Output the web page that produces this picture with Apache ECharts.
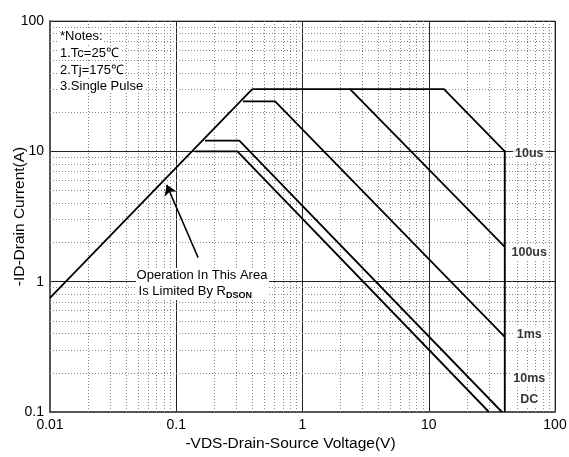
<!DOCTYPE html>
<html><head><meta charset="utf-8">
<script src="https://cdn.jsdelivr.net/npm/echarts@6/dist/echarts.min.js"></script>
<style>html,body{margin:0;padding:0;background:#fff}#c{width:569px;height:457px}</style>
</head><body><div id="c"></div>
<script>
// ---- data ----
const xDecades = [0.01, 0.1, 1, 10];
const yDecades = [0.1, 1, 10];
const minorSteps = [2, 3, 4, 5, 6, 7, 8, 9];
const rdson = [[0.01, 0.75], [0.4, 30]];
const us10 = [[0.4, 30], [13.2, 30], [40, 10], [40, 0.1]];
const us100 = [[2.38, 30], [40, 1.85]];
const ms1 = [[0.338, 24.2], [0.607, 24.2], [40, 0.377]];
const ms10 = [[0.169, 12.1], [0.316, 12.1], [38, 0.1]];
const dc = [[0.141, 10], [0.305, 10], [30, 0.1]];
const curveNames = ['10us', '100us', '1ms', '10ms', 'DC'];
const curveLabelAt = [[62.5, 9.57], [62.5, 1.68], [62.5, 0.393], [62.5, 0.179], [62.5, 0.125]];
const arrowFrom = [0.149, 1.53];
const arrowTo = [0.084, 5.53];
const notes = ['*Notes:', '1.Tc=25\u2103', '2.Tj=175\u2103', '3.Single Pulse'];

// ---- chart ----
const FONT = 'Liberation Sans, Arial, sans-serif';
const minorX = [], minorY = [];
xDecades.forEach(d => minorSteps.forEach(k => minorX.push(+(k * d).toPrecision(3))));
yDecades.forEach(d => minorSteps.forEach(k => minorY.push(+(k * d).toPrecision(3))));
const fmt = v => String(+(+v).toPrecision(3));
const curveStyle = { color: '#000', width: 1.8 };
function curve(name, data) {
  return { name, type: 'line', data, symbol: 'none', lineStyle: curveStyle, z: 5, silent: true };
}
const chart = echarts.init(document.getElementById('c'));
const noteGraphics = notes.map((t, i) => ({
  type: 'text', x: 59, y: [36.7, 53, 70, 86.3][i], z: 60,
  style: { text: t, font: '13px ' + FONT, fill: '#000', verticalAlign: 'middle', backgroundColor: '#fff', padding: [0, 1] }
}));
chart.setOption({
  animation: false,
  backgroundColor: '#fff',
  grid: { left: 50, right: 14, top: 21, bottom: 45, show: true, borderColor: '#666', borderWidth: 1,
          containLabel: false, outerBoundsMode: 'none' },
  xAxis: {
    type: 'log', logBase: 10, min: 0.01, max: 100,
    axisLine: { show: true, onZero: false, lineStyle: { color: '#555', width: 2 } },
    axisTick: { show: false },
    splitLine: { show: true, lineStyle: { color: '#222', width: 1 } },
    axisLabel: { fontSize: 14, color: '#000', fontFamily: FONT, margin: 6, formatter: fmt },
    name: '-VDS-Drain-Source Voltage(V)', nameLocation: 'middle', nameGap: 23.5, nameMoveOverlap: false,
    nameTextStyle: { fontSize: 15.5, color: '#000', fontFamily: FONT, padding: [0, 24, 0, 0] }
  },
  yAxis: {
    type: 'log', logBase: 10, min: 0.1, max: 100,
    axisLine: { show: true, onZero: false, lineStyle: { color: '#555', width: 2 } },
    axisTick: { show: false },
    splitLine: { show: true, lineStyle: { color: '#222', width: 1 } },
    axisLabel: { fontSize: 14, color: '#000', fontFamily: FONT, margin: 6, formatter: fmt },
    name: '-ID-Drain Current(A)', nameLocation: 'middle', nameGap: 22, nameMoveOverlap: false,
    nameTextStyle: { fontSize: 15.5, color: '#000', fontFamily: FONT }
  },
  series: [
    {
      type: 'line', data: [[0.01, 0.1]], symbol: 'none', lineStyle: { opacity: 0 }, z: 1, silent: true,
      markLine: {
        silent: true, symbol: 'none', label: { show: false }, animation: false,
        lineStyle: { type: [1, 2], color: '#888', width: 1 },
        data: minorX.map(v => ({ xAxis: v })).concat(minorY.map(v => ({ yAxis: v })))
      }
    },
    curve('RDSON', rdson),
    curve('10us', us10),
    curve('100us', us100),
    curve('1ms', ms1),
    curve('10ms', ms10),
    curve('DC', dc),
    {
      type: 'scatter', data: curveLabelAt, symbolSize: 1, itemStyle: { color: '#fff' }, z: 20, silent: true,
      label: {
        show: true, position: 'inside', formatter: p => curveNames[p.dataIndex],
        fontSize: 12.5, fontWeight: 'bold', color: '#000', fontFamily: FONT,
        backgroundColor: '#fff', padding: [1, 2]
      }
    },
    {
      type: 'line', data: [[0.01, 0.1]], symbol: 'none', lineStyle: { opacity: 0 }, z: 30, silent: true,
      markLine: {
        silent: true, symbol: ['none', 'arrow'], symbolSize: 10, label: { show: false }, animation: false,
        lineStyle: { type: 'solid', color: '#000', width: 1.5 },
        data: [[{ coord: arrowFrom }, { coord: arrowTo }]]
      }
    }
  ],
  graphic: noteGraphics.concat([
    { type: 'rect', shape: { x: 136, y: 268, width: 133, height: 32 }, style: { fill: '#fff' }, z: 50 },
    { type: 'text', x: 202, y: 275.7, z: 51,
      style: { text: 'Operation In This Area', font: '13px ' + FONT, fill: '#000', align: 'center', verticalAlign: 'middle' } },
    { type: 'text', x: 226, y: 291.7, z: 51,
      style: { text: 'Is Limited By R', font: '13px ' + FONT, fill: '#000', align: 'right', verticalAlign: 'middle' } },
    { type: 'text', x: 226, y: 295.5, z: 51,
      style: { text: 'DSON', font: 'bold 9px ' + FONT, fill: '#000', align: 'left', verticalAlign: 'middle' } }
  ])
});
</script>
</body></html>
